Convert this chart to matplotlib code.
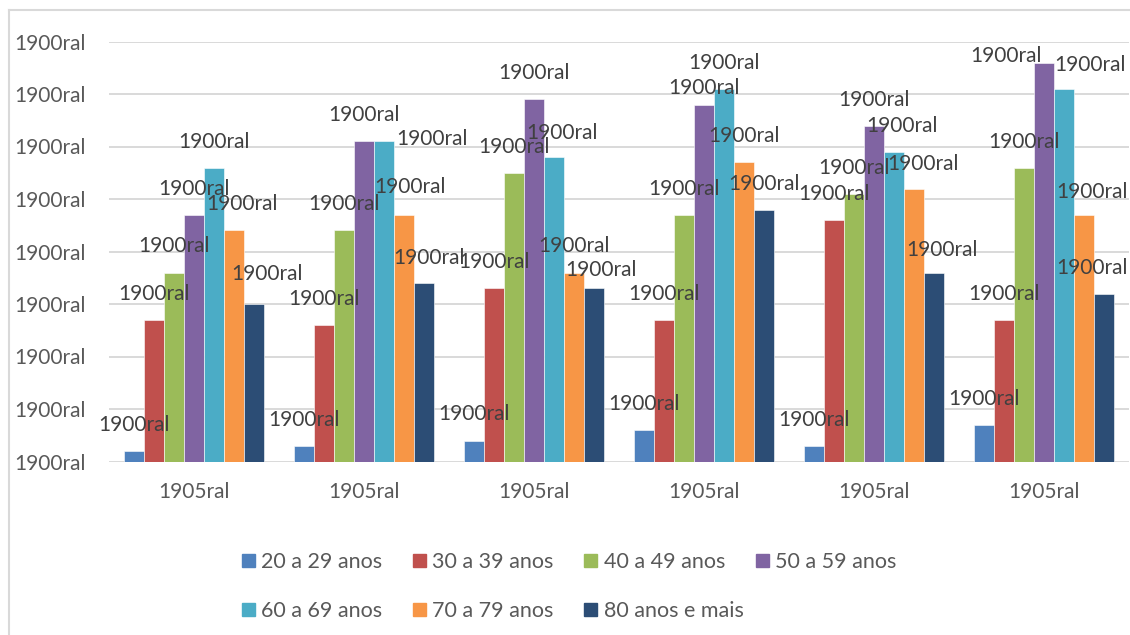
import numpy as np
import matplotlib.pyplot as plt
from matplotlib.lines import Line2D

plt.rcParams["font.family"] = ["Lato", "DejaVu Sans"]

# grouped values, one list per age band (6 periods each)
periods = ["1905ral"] * 6
ages = ["20 a 29 anos", "30 a 39 anos", "40 a 49 anos", "50 a 59 anos",
        "60 a 69 anos", "70 a 79 anos", "80 anos e mais"]
v20 = [0.2, 0.3, 0.4, 0.6, 0.3, 0.7]
v30 = [2.7, 2.6, 3.3, 2.7, 4.6, 2.7]
v40 = [3.6, 4.4, 5.5, 4.7, 5.1, 5.6]
v50 = [4.7, 6.1, 6.9, 6.8, 6.4, 7.6]
v60 = [5.6, 6.1, 5.8, 7.1, 5.9, 7.1]
v70 = [4.4, 4.7, 3.6, 5.7, 5.2, 4.7]
v80 = [3.0, 3.4, 3.3, 4.8, 3.6, 3.2]
series = [v20, v30, v40, v50, v60, v70, v80]

y_ticks = np.arange(0, 9)
y_labels = ["1900ral"] * len(y_ticks)
value_label = "1900ral"

colors = ["#4F81BD", "#C0504D", "#9BBB59", "#8064A2",
          "#4BACC6", "#F79646", "#2C4D75"]

# hand nudges for data labels that were dragged off their default spot
# (group, series) -> (dx px, height above bar top px)
nudges = {
    (0, 5): (8, 26), (0, 6): (13, 30),
    (1, 4): (48, 2), (1, 5): (6, 28), (1, 6): (5, 25),
    (2, 4): (8, 24), (2, 6): (7, 18),
    (3, 3): (0, 17),
    (4, 4): (8, 26), (4, 5): (9, 25), (4, 6): (8, 22),
    (5, 3): (-38, 6), (5, 4): (26, 24), (5, 5): (8, 23), (5, 6): (-12, 25),
}

W, H = 1130, 635
fig = plt.figure(figsize=(W / 100, H / 100), dpi=100)
ax = fig.add_axes([109 / W, 1 - 461.5 / H, 1020 / W, 420 / H])

x = np.arange(len(periods))
bw = 0.8235 / len(series)
px = 0.72  # points per pixel at 100 dpi

for j, (vals, c) in enumerate(zip(series, colors)):
    xs = x - 0.8235 / 2 + bw * (j + 0.5)
    ax.bar(xs, vals, width=bw, color=c, edgecolor="white", linewidth=0.4, zorder=2)
    for i, (xi, v) in enumerate(zip(xs, vals)):
        dx, dy = nudges.get((i, j), (0, 26))
        ax.annotate(value_label, (xi, v), xytext=(dx * px, dy * px),
                    textcoords="offset points", ha="center", va="center",
                    fontsize=15, color="#404040", zorder=3)

ax.set_xlim(-0.5, len(periods) - 0.5)
ax.set_ylim(0, 8)
ax.set_yticks(y_ticks)
ax.set_yticklabels(y_labels)
ax.set_xticks(x)
ax.set_xticklabels(periods)
ax.tick_params(axis="both", length=0, labelsize=15, labelcolor="#595959")
ax.tick_params(axis="y", pad=16.5)
ax.tick_params(axis="x", pad=15)
ax.grid(axis="y", color="#D9D9D9", linewidth=1.4, zorder=0)
ax.set_axisbelow(True)
for s in ax.spines.values():
    s.set_visible(False)

# legend as two rows so the columns keep an even pitch
handles = [plt.Rectangle((0, 0), 1, 1, color=c) for c in colors]
leg_kw = dict(loc="center left", frameon=False, fontsize=15.5, labelcolor="#595959",
              handlelength=0.6, handleheight=0.6, handletextpad=0.3,
              columnspacing=1.42, borderpad=0, borderaxespad=0)
for rows, yc in (([0, 1, 2, 3], 562), ([4, 5, 6], 611)):
    fig.legend([handles[k] for k in rows], [ages[k] for k in rows], ncol=len(rows),
               bbox_to_anchor=(242 / W, 1 - yc / H), **leg_kw)

# light outer frame of the chart area
fig.add_artist(Line2D([8.5 / W, 8.5 / W], [0, 1 - 10 / H], transform=fig.transFigure,
                      color="#D9D9D9", linewidth=1.5))
fig.add_artist(Line2D([8.5 / W, 1], [1 - 10 / H, 1 - 10 / H], transform=fig.transFigure,
                      color="#D9D9D9", linewidth=1.5))

fig.savefig("out.png", dpi=100)
